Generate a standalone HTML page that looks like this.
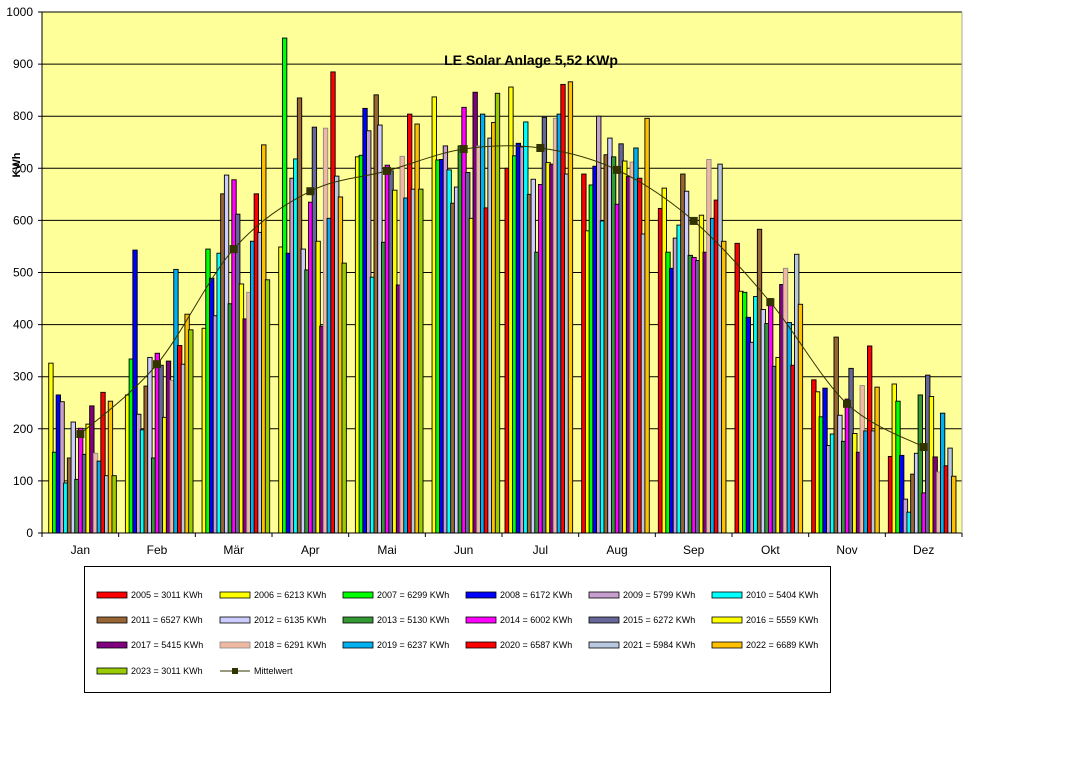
<!DOCTYPE html>
<html><head><meta charset="utf-8"><title>LE Solar Anlage</title>
<style>
html,body{margin:0;padding:0;background:#fff;}
body{width:1089px;height:772px;overflow:hidden;font-family:"Liberation Sans",sans-serif;}
svg text{font-family:"Liberation Sans",sans-serif;}
</style></head>
<body>
<svg id="chart" width="1089" height="772" xmlns="http://www.w3.org/2000/svg"></svg>
<script>
const months = ["Jan","Feb","Mär","Apr","Mai","Jun","Jul","Aug","Sep","Okt","Nov","Dez"];
const years = ["2005","2006","2007","2008","2009","2010","2011","2012","2013","2014","2015","2016","2017","2018","2019","2020","2021","2022","2023"];
const totals = ["3011","6213","6299","6172","5799","5404","6527","6135","5130","6002","6272","5559","5415","6291","6237","6587","5984","6689","3011"];
const colors = ["#ff0000","#ffff00","#00ff00","#0000ff","#c8a0d0","#00ffff","#996633","#ccccff","#339933","#ff00ff","#666699","#ffff00","#800080","#f0b8a0","#00b0f0","#ff0000","#b8c8e0","#ffc000","#99cc00"];
const yTicks = [0,100,200,300,400,500,600,700,800,900,1000];
// values per year, Jan..Dec (null = no data)
const v2005 = [null,null,null,null,null,null,700,689,623,556,294,147];
const v2006 = [326,265,393,549,722,837,856,580,662,464,271,286];
const v2007 = [155,334,545,950,725,716,724,668,539,462,223,253];
const v2008 = [265,543,489,537,815,717,748,704,508,414,278,149];
const v2009 = [252,228,417,681,772,743,741,800,566,366,168,65];
const v2010 = [96,198,537,718,491,697,789,599,591,454,190,40];
const v2011 = [144,282,651,835,841,633,650,726,689,583,376,113];
const v2012 = [213,337,687,545,783,664,679,758,656,429,226,153];
const v2013 = [103,144,440,505,558,743,539,722,533,402,176,265];
const v2014 = [201,345,678,635,706,817,669,631,529,450,257,77];
const v2015 = [151,322,612,779,695,692,798,747,523,320,316,303];
const v2016 = [209,222,478,560,658,604,711,714,610,337,191,262];
const v2017 = [244,330,411,397,476,846,708,684,539,477,155,146];
const v2018 = [153,293,462,777,723,743,796,712,717,508,283,117];
const v2019 = [138,506,560,604,643,804,804,739,604,404,196,230];
const v2020 = [270,360,651,885,804,624,861,681,639,322,359,129];
const v2021 = [110,324,577,685,660,758,689,574,708,535,196,163];
const v2022 = [253,420,745,645,785,788,866,796,560,439,280,109];
const v2023 = [110,390,486,518,660,844,null,null,null,null,null,null];
const mittel = [190,324,545,656,695,737,739,697,599,443,248,165];
const series = [v2005,v2006,v2007,v2008,v2009,v2010,v2011,v2012,v2013,v2014,v2015,v2016,v2017,v2018,v2019,v2020,v2021,v2022,v2023];

const NS="http://www.w3.org/2000/svg";
const svg=document.getElementById('chart');
function mk(tag,attrs,parent){const e=document.createElementNS(NS,tag);for(const k in attrs)e.setAttribute(k,attrs[k]);(parent||svg).appendChild(e);return e;}
const X0=42,X1=962,Y0=533,Y1=12;
const slot=(X1-X0)/months.length;
function yScale(v){return Y0-(v/1000)*(Y0-Y1);}
function xSlot(m){return X0+m*slot;}

const bg=mk('rect',{x:X0,y:Y1,width:X1-X0,height:Y0-Y1,fill:'#ffff99'});



// grid + y labels
yTicks.forEach(t=>{
  const y=yScale(t);
  const l=mk('line',{x1:X0-4,x2:X1,y1:y,y2:y,stroke:'#000','stroke-width':1});
  
  
  const tx=mk('text',{x:33,y:y+4,'font-size':12,'text-anchor':'end',fill:'#000'});
  tx.textContent=t;
  
  
});

// bars
const step=3.72,bw=4.4;
series.forEach((s,i)=>{
  s.forEach((v,m)=>{
    if(v===null)return;
    const x=xSlot(m)+3+i*step;
    const y=yScale(v);
    const r=mk('rect',{x:x,y:y,width:bw,height:Y0-y,fill:colors[i],stroke:(i===13?'#888':'#000'),'stroke-width':0.9});
    
    
  });
});

// axes
mk('line',{x1:X0,x2:X0,y1:Y1,y2:Y0,stroke:'#000','stroke-width':1});
mk('line',{x1:X0,x2:X1,y1:Y0,y2:Y0,stroke:'#000','stroke-width':1});
mk('line',{x1:X1,x2:X1,y1:Y1,y2:Y0,stroke:'#aaa','stroke-width':1});
for(let m=0;m<=months.length;m++){
  const x=xSlot(m);
  mk('line',{x1:x,x2:x,y1:Y0,y2:Y0+4,stroke:'#000','stroke-width':1});
}
months.forEach((mn,m)=>{
  const t=mk('text',{x:xSlot(m)+slot/2,y:554,'font-size':12,'text-anchor':'middle',fill:'#000'});
  t.textContent=mn;
  
  
});

// Mittelwert smooth line
const pts=mittel.map((v,m)=>[xSlot(m)+slot/2,yScale(v)]);
let d='M'+pts[0][0]+','+pts[0][1];
for(let i=0;i<pts.length-1;i++){
  const p0=pts[Math.max(0,i-1)],p1=pts[i],p2=pts[i+1],p3=pts[Math.min(pts.length-1,i+2)];
  const c1=[p1[0]+(p2[0]-p0[0])/6,p1[1]+(p2[1]-p0[1])/6];
  const c2=[p2[0]-(p3[0]-p1[0])/6,p2[1]-(p3[1]-p1[1])/6];
  d+=' C'+c1[0]+','+c1[1]+' '+c2[0]+','+c2[1]+' '+p2[0]+','+p2[1];
}
const ml=mk('path',{d:d,fill:'none',stroke:'#333300','stroke-width':1});


pts.forEach(p=>{
  const q=mk('rect',{x:p[0]-4,y:p[1]-4,width:8,height:8,fill:'#333300'});
  
  
});

// title & axis title
const ti=mk('text',{x:531,y:65,'font-size':14,'font-weight':'bold','text-anchor':'middle',fill:'#000'});
ti.textContent='LE Solar Anlage 5,52 KWp';


const ya=mk('text',{x:0,y:0,'font-size':11,'font-weight':'bold','text-anchor':'middle',fill:'#000',transform:'translate(20,165) rotate(-90)'});
ya.textContent='KWh';



// legend
const lg=mk('g',{});


mk('rect',{x:84.5,y:566.5,width:746,height:126,fill:'#fff',stroke:'#000','stroke-width':1},lg);
const colX=[97,220,343,466,589,712],rowY=[595,620,645,671];
years.forEach((yr,i)=>{
  const cx=colX[i%6],cy=rowY[Math.floor(i/6)];
  const e=mk('g',{},lg);
  
  
  mk('rect',{x:cx,y:cy-3,width:30,height:6,fill:colors[i],stroke:(i===13?'#888':'#000'),'stroke-width':0.8},e);
  const t=mk('text',{x:cx+34,y:cy+3,'font-size':9,fill:'#000'},e);
  t.textContent=yr+' = '+totals[i]+' KWh';
});
const me=mk('g',{},lg);


mk('line',{x1:220,x2:250,y1:671,y2:671,stroke:'#333300','stroke-width':1},me);
mk('rect',{x:232,y:668,width:6,height:6,fill:'#333300'},me);
const mt=mk('text',{x:254,y:674,'font-size':9,fill:'#000'},me);
mt.textContent='Mittelwert';
</script>
</body></html>
